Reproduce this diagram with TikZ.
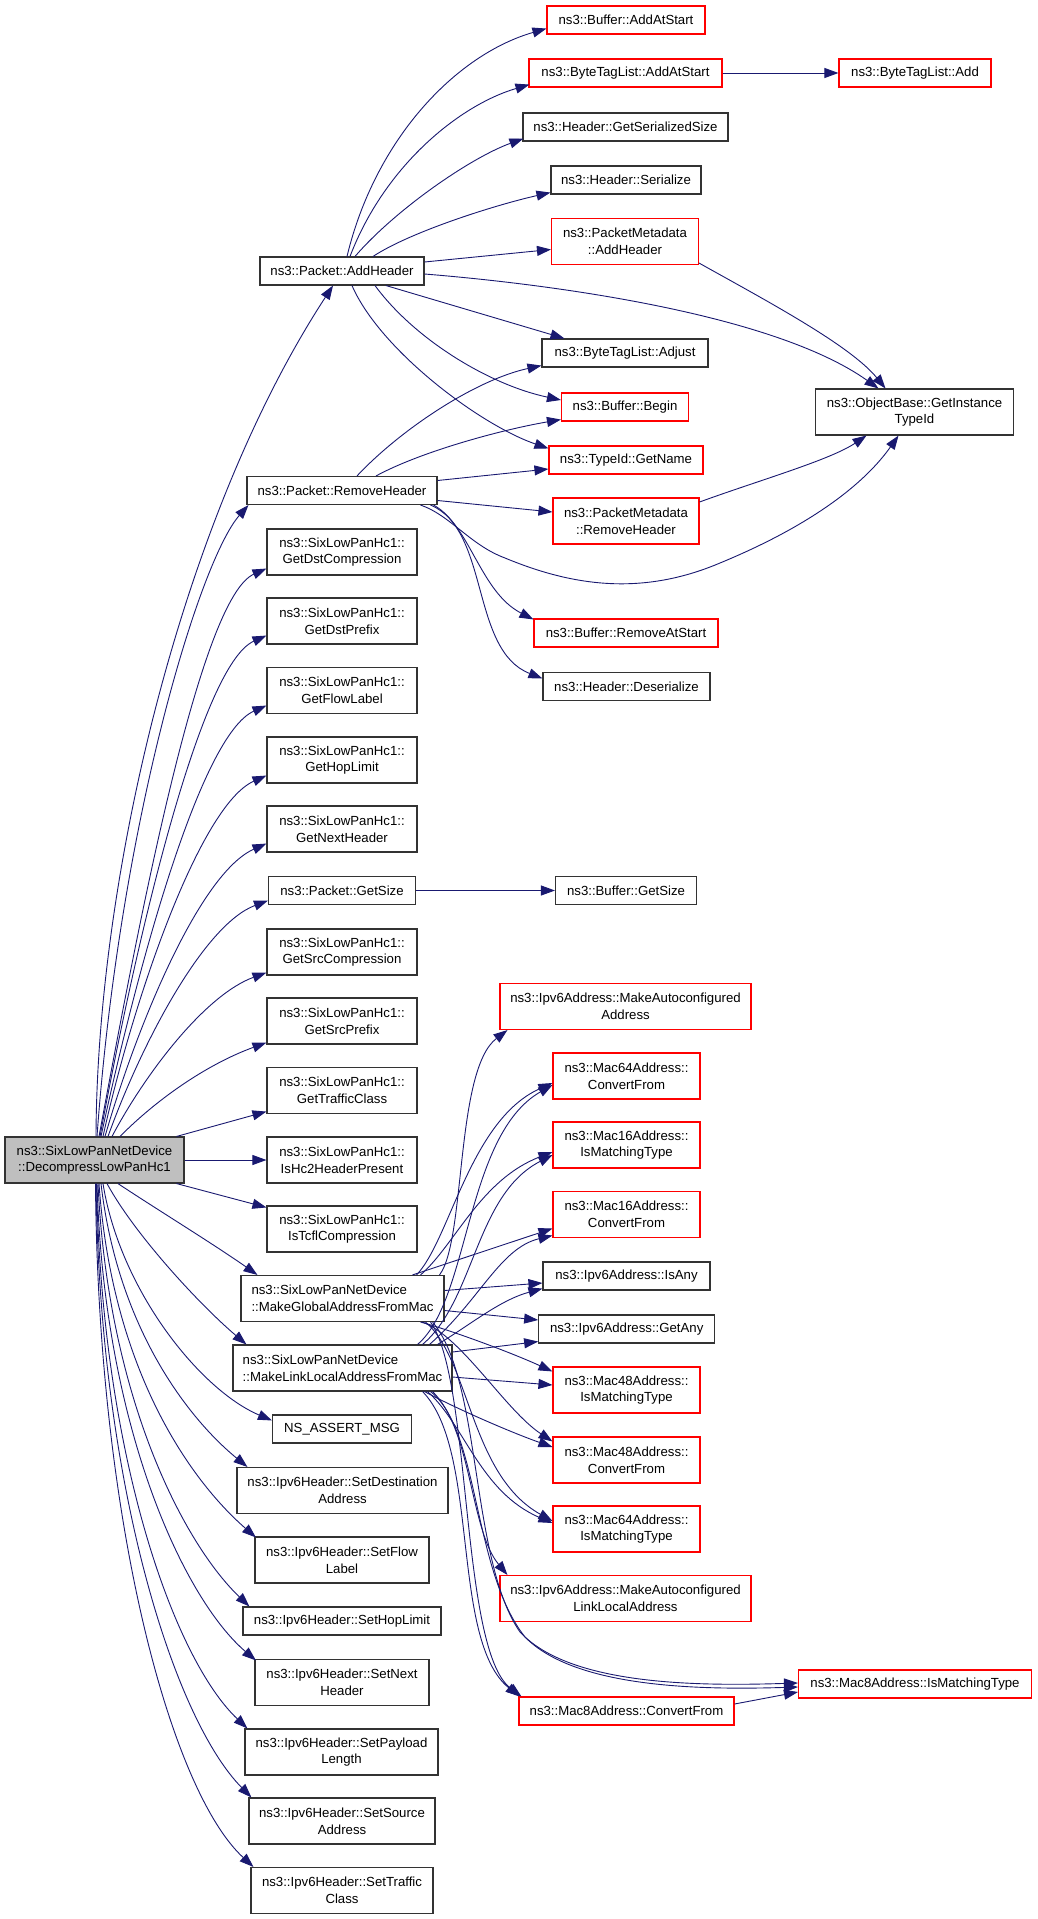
\documentclass[tikz,border=0pt]{standalone}
\usepackage{fontspec}
\setmainfont{Liberation Sans}
\usetikzlibrary{arrows.meta,calc}
\definecolor{edgecol}{HTML}{191970}
\definecolor{boxgray}{HTML}{333333}
\definecolor{maingray}{HTML}{BFBFBF}
\newcommand{\dxfont}{\fontsize{13.2}{16.7}\selectfont}
\begin{document}
\begin{tikzpicture}[x=1pt,y=-1pt,
 box/.style={draw=boxgray,line width=1.1pt,fill=white,rectangle,inner sep=0pt,align=center,font=\dxfont},
 redbox/.style={box,draw=red},
 mainbox/.style={box,fill=maingray},
 sz/.style 2 args={minimum width=#1pt,minimum height=#2pt},
 conn/.style={draw=edgecol,line width=0.9pt,-{Triangle[length=14pt,width=10pt]}}]
\useasboundingbox (0,0) rectangle (1037,1919);

% ---- column 0
\node[mainbox,sz={179}{46}] (D) at (94.5,1160) {ns3::SixLowPanNetDevice\\::DecompressLowPanHc1};

% ---- column 1
\node[box,sz={164}{28}] (pAdd) at (342,271) {ns3::Packet::AddHeader};
\node[box,sz={190}{28}] (pRem) at (342,490.5) {ns3::Packet::RemoveHeader};
\node[box,sz={150}{46}] (gDC) at (342,552) {ns3::SixLowPanHc1::\\GetDstCompression};
\node[box,sz={150}{46}] (gDP) at (342,621) {ns3::SixLowPanHc1::\\GetDstPrefix};
\node[box,sz={150}{46}] (gFL) at (342,690.5) {ns3::SixLowPanHc1::\\GetFlowLabel};
\node[box,sz={150}{46}] (gHL) at (342,760) {ns3::SixLowPanHc1::\\GetHopLimit};
\node[box,sz={150}{46}] (gNH) at (342,829) {ns3::SixLowPanHc1::\\GetNextHeader};
\node[box,sz={147}{28}] (pGS) at (342,890.5) {ns3::Packet::GetSize};
\node[box,sz={150}{46}] (gSC) at (342,952) {ns3::SixLowPanHc1::\\GetSrcCompression};
\node[box,sz={150}{46}] (gSP) at (342,1021) {ns3::SixLowPanHc1::\\GetSrcPrefix};
\node[box,sz={150}{46}] (gTC) at (342,1090.5) {ns3::SixLowPanHc1::\\GetTrafficClass};
\node[box,sz={150}{46}] (isHc2) at (342,1160) {ns3::SixLowPanHc1::\\IsHc2HeaderPresent};
\node[box,sz={150}{46}] (isTcfl) at (342,1229) {ns3::SixLowPanHc1::\\IsTcflCompression};
\node[box,sz={203}{46},align=left] (MG) at (342.5,1298.5) {ns3::SixLowPanNetDevice\\::MakeGlobalAddressFromMac};
\node[box,sz={219}{46},align=left] (ML) at (342.5,1368) {ns3::SixLowPanNetDevice\\::MakeLinkLocalAddressFromMac};
\node[box,sz={139}{28}] (nsA) at (342,1429) {NS\_ASSERT\_MSG};
\node[box,sz={211}{46}] (setDA) at (342.5,1490.5) {ns3::Ipv6Header::SetDestination\\Address};
\node[box,sz={174}{46}] (setFL) at (342,1560) {ns3::Ipv6Header::SetFlow\\Label};
\node[box,sz={198}{28}] (setHL) at (342,1621) {ns3::Ipv6Header::SetHopLimit};
\node[box,sz={174}{46}] (setNH) at (342,1682.5) {ns3::Ipv6Header::SetNext\\Header};
\node[box,sz={193}{46}] (setPL) at (341.5,1752) {ns3::Ipv6Header::SetPayload\\Length};
\node[box,sz={186}{46}] (setSA) at (342,1821) {ns3::Ipv6Header::SetSource\\Address};
\node[box,sz={182}{46}] (setTC) at (342,1890.5) {ns3::Ipv6Header::SetTraffic\\Class};

% ---- column 2
\node[redbox,sz={158}{28}] (bufAdd) at (626,20) {ns3::Buffer::AddAtStart};
\node[redbox,sz={193}{28}] (btlAddAt) at (625.5,73) {ns3::ByteTagList::AddAtStart};
\node[box,sz={205}{28}] (hdrGSS) at (625.5,127) {ns3::Header::GetSerializedSize};
\node[box,sz={150}{28}] (hdrSer) at (626,180) {ns3::Header::Serialize};
\node[redbox,sz={147}{46}] (pmAdd) at (625,241.5) {ns3::PacketMetadata\\::AddHeader};
\node[box,sz={166}{28}] (btlAdj) at (625,353) {ns3::ByteTagList::Adjust};
\node[redbox,sz={127}{28}] (bufBegin) at (625,407) {ns3::Buffer::Begin};
\node[redbox,sz={154}{28}] (tidGN) at (626,460) {ns3::TypeId::GetName};
\node[redbox,sz={146}{46}] (pmRem) at (626,521) {ns3::PacketMetadata\\::RemoveHeader};
\node[redbox,sz={184}{28}] (bufRAS) at (626,633) {ns3::Buffer::RemoveAtStart};
\node[box,sz={167}{28}] (hdrDes) at (626.5,686.5) {ns3::Header::Deserialize};
\node[box,sz={141}{28}] (bufGS) at (626,890.5) {ns3::Buffer::GetSize};
\node[redbox,sz={251}{46}] (ipMAA) at (625.5,1006.5) {ns3::Ipv6Address::MakeAutoconfigured\\Address};
\node[redbox,sz={147}{46}] (m64CF) at (626.5,1076) {ns3::Mac64Address::\\ConvertFrom};
\node[redbox,sz={147}{46}] (m16IMT) at (626.5,1145) {ns3::Mac16Address::\\IsMatchingType};
\node[redbox,sz={147}{46}] (m16CF) at (626.5,1214.5) {ns3::Mac16Address::\\ConvertFrom};
\node[box,sz={167}{28}] (ipIsAny) at (626.5,1276) {ns3::Ipv6Address::IsAny};
\node[box,sz={176}{28}] (ipGetAny) at (626.7,1329) {ns3::Ipv6Address::GetAny};
\node[redbox,sz={147}{46}] (m48IMT) at (626.5,1390) {ns3::Mac48Address::\\IsMatchingType};
\node[redbox,sz={147}{46}] (m48CF) at (626.5,1460) {ns3::Mac48Address::\\ConvertFrom};
\node[redbox,sz={147}{46}] (m64IMT) at (626.5,1529) {ns3::Mac64Address::\\IsMatchingType};
\node[redbox,sz={251}{46}] (ipMALL) at (625.5,1598.5) {ns3::Ipv6Address::MakeAutoconfigured\\LinkLocalAddress};
\node[redbox,sz={215}{28}] (m8CF) at (626.5,1711) {ns3::Mac8Address::ConvertFrom};

% ---- column 3
\node[redbox,sz={152}{28}] (btlAdd) at (915,73) {ns3::ByteTagList::Add};
\node[box,sz={198}{46}] (obGIT) at (914.5,412) {ns3::ObjectBase::GetInstance\\TypeId};
\node[redbox,sz={233}{28}] (m8IMT) at (915,1684) {ns3::Mac8Address::IsMatchingType};

% ---- edges from DecompressLowPanHc1 (upward)
\draw[conn] ($(D.north)+(1.5,0)$) .. controls (97,880) and (180,520) .. ($(pAdd.south)+(-9,0)$);
\draw[conn] ($(D.north)+(2.5,0)$) .. controls (120,820) and (200,560) .. ($(pRem.south west)+(2,0)$);
\draw[conn] ($(D.north)+(4.5,0)$) .. controls (139,921) and (200,598) .. ($(gDC.south west)+(0,-7)$);
\draw[conn] ($(D.north)+(5.5,0)$) .. controls (135,946) and (200,665) .. ($(gDP.south west)+(0,-9)$);
\draw[conn] ($(D.north)+(6.5,0)$) .. controls (136,973) and (200,735) .. ($(gFL.south west)+(0,-8.5)$);
\draw[conn] ($(D.north)+(8.5,0)$) .. controls (133,1000) and (200,805) .. ($(gHL.south west)+(0,-8)$);
\draw[conn] ($(D.north)+(10.5,0)$) .. controls (137,1025) and (200,873) .. ($(gNH.south west)+(0,-9)$);
\draw[conn] ($(D.north)+(13.5,0)$) .. controls (140,1047) and (203,925) .. ($(pGS.south west)+(0,-4.5)$);
\draw[conn] ($(D.north)+(17.5,0)$) .. controls (145,1074) and (205,995) .. ($(gSC.south west)+(0,-3)$);
\draw[conn] ($(D.north)+(25.5,0)$) .. controls (155,1101) and (205,1065) .. ($(gSP.south west)+(0,-2)$);
\draw[conn] ($(D.north)+(82,0)$) -- ($(gTC.south west)+(0,-2.5)$);
\draw[conn] (D.east) -- (isHc2.west);
\draw[conn] ($(D.south)+(82,0)$) -- ($(isTcfl.north west)+(0,2)$);

% ---- edges from DecompressLowPanHc1 (downward)
\draw[conn] ($(D.south)+(23.5,0)$) .. controls (150,1205) and (215,1245) .. ($(MG.north west)+(17,0)$);
\draw[conn] ($(D.south)+(12.5,0)$) .. controls (135,1235) and (200,1305) .. ($(ML.north west)+(14,0)$);
\draw[conn] ($(D.south)+(8.5,0)$) .. controls (120,1290) and (200,1390) .. ($(nsA.north west)+(0,6)$);
\draw[conn] ($(D.south)+(6.5,0)$) .. controls (118,1330) and (190,1420) .. ($(setDA.north west)+(11,0)$);
\draw[conn] ($(D.south)+(4.5,0)$) .. controls (112,1370) and (190,1480) .. ($(setFL.north west)+(1.5,1)$);
\draw[conn] ($(D.south)+(3.5,0)$) .. controls (108,1400) and (185,1545) .. ($(setHL.north west)+(7,0)$);
\draw[conn] ($(D.south)+(2.5,0)$) .. controls (104,1430) and (185,1600) .. ($(setNH.north west)+(1.5,1.5)$);
\draw[conn] ($(D.south)+(2,0)$) .. controls (102,1460) and (175,1660) .. ($(setPL.north west)+(3,0)$);
\draw[conn] ($(D.south)+(1.5,0)$) .. controls (100,1490) and (175,1720) .. ($(setSA.north west)+(3,0)$);
\draw[conn] ($(D.south)+(1,0)$) .. controls (98,1520) and (170,1790) .. ($(setTC.north west)+(3,0)$);

% ---- edges from Packet::AddHeader
\draw[conn] ($(pAdd.north)+(5,0)$) .. controls (375,140) and (455,55) .. ($(bufAdd.south west)+(0,-6)$);
\draw[conn] ($(pAdd.north)+(8,0)$) .. controls (385,165) and (460,105) .. ($(btlAddAt.south west)+(1,-3)$);
\draw[conn] ($(pAdd.north)+(13,0)$) .. controls (395,210) and (470,158) .. ($(hdrGSS.south west)+(1,-3)$);
\draw[conn] ($(pAdd.north)+(31,0)$) .. controls (410,232) and (495,205) .. ($(hdrSer.south west)+(0,-2)$);
\draw[conn] ($(pAdd.east)+(0,-9)$) -- ($(pmAdd.west)+(0,8)$);
\draw[conn] ($(pAdd.east)+(0,3)$) .. controls (560,285) and (775,315) .. ($(obGIT.north)+(-36,0)$);
\draw[conn] ($(pAdd.south)+(44,0)$) -- ($(btlAdj.north west)+(23,0)$);
\draw[conn] ($(pAdd.south)+(33,0)$) .. controls (415,340) and (490,385) .. ($(bufBegin.west)+(0,-7)$);
\draw[conn] ($(pAdd.south)+(10,0)$) .. controls (380,350) and (480,425) .. ($(tidGN.north west)+(0,3)$);
\draw[conn] (btlAddAt.east) -- (btlAdd.west);
\draw[conn] ($(pmAdd.south east)+(0,-2)$) .. controls (765,300) and (850,345) .. ($(obGIT.north)+(-29,0)$);

% ---- edges from Packet::RemoveHeader
\draw[conn] ($(pRem.north)+(15,0)$) .. controls (400,430) and (475,380) .. ($(btlAdj.south west)+(0,-2)$);
\draw[conn] ($(pRem.north)+(34,0)$) .. controls (420,452) and (500,430) .. ($(bufBegin.south west)+(0,-2)$);
\draw[conn] ($(pRem.east)+(0,-10)$) -- ($(tidGN.west)+(0,9)$);
\draw[conn] ($(pRem.east)+(0,10)$) -- ($(pmRem.west)+(0,-9)$);
\draw[conn] ($(pRem.south east)+(-17,0)$) .. controls (450,515) and (470,545) .. (505,558)
   .. controls (570,585) and (640,597) .. (720,563)
   .. controls (800,530) and (860,490) .. ($(obGIT.south)+(-16,0)$);
\draw[conn] ($(pRem.south east)+(-4,0)$) .. controls (470,525) and (480,592) .. ($(bufRAS.north west)+(0,1)$);
\draw[conn] ($(pRem.south east)+(-7,0)$) .. controls (490,530) and (470,650) .. ($(hdrDes.west)+(0,-8)$);
\draw[conn] ($(pmRem.east)+(0,-19)$) .. controls (760,480) and (830,460) .. ($(obGIT.south)+(-48,0)$);

\draw[conn] (pGS.east) -- (bufGS.west);

% ---- edges from MakeGlobalAddressFromMac
\draw[conn] ($(MG.north)+(97,0)$) .. controls (466,1240) and (455,1070) .. ($(ipMAA.south west)+(8,0)$);
\draw[conn] ($(MG.north)+(74,0)$) .. controls (450,1240) and (470,1120) .. ($(m64CF.west)+(0,7)$);
\draw[conn] ($(MG.north)+(78,0)$) .. controls (455,1245) and (480,1180) .. ($(m16IMT.west)+(0,7)$);
\draw[conn] ($(MG.north)+(70,0)$) -- ($(m16CF.west)+(0,14)$);
\draw[conn] ($(MG.east)+(0,-8)$) -- ($(ipIsAny.west)+(0,7)$);
\draw[conn] ($(MG.east)+(0,12)$) -- ($(ipGetAny.west)+(0,-9)$);
\draw[conn] ($(MG.south east)+(-24,0)$) .. controls (450,1330) and (510,1352) .. ($(m48IMT.north west)+(0,5)$);
\draw[conn] ($(MG.south east)+(-22,0)$) .. controls (462,1337) and (505,1410) .. ($(m48CF.north west)+(0,5)$);
\draw[conn] ($(MG.south east)+(-19,0)$) .. controls (470,1360) and (470,1475) .. ($(m64IMT.west)+(0,-8)$);
\draw[conn] ($(MG.south east)+(-14,0)$) .. controls (472,1380) and (460,1650) .. ($(m8CF.north west)+(3,0)$);
\draw[conn] ($(MG.south east)+(-12,0)$) .. controls (482,1380) and (470,1560) .. (520,1632)
   .. controls (570,1686) and (700,1686) .. ($(m8IMT.west)+(0,-1)$);

% ---- edges from MakeLinkLocalAddressFromMac
\draw[conn] ($(ML.north)+(75,0)$) .. controls (470,1300) and (465,1135) .. ($(m64CF.west)+(0,9)$);
\draw[conn] ($(ML.north)+(80,0)$) .. controls (475,1300) and (475,1195) .. ($(m16IMT.west)+(0,10)$);
\draw[conn] ($(ML.north)+(87,0)$) .. controls (480,1300) and (500,1248) .. ($(m16CF.west)+(0,21)$);
\draw[conn] ($(ML.north)+(95,0)$) .. controls (470,1325) and (500,1300) .. ($(ipIsAny.south west)+(0,-2)$);
\draw[conn] ($(ML.east)+(0,-16)$) -- ($(ipGetAny.south west)+(0,-2)$);
\draw[conn] ($(ML.east)+(0,9)$) -- ($(m48IMT.west)+(0,-5)$);
\draw[conn] ($(ML.south east)+(-28,0)$) .. controls (455,1408) and (510,1432) .. ($(m48CF.west)+(0,-13)$);
\draw[conn] ($(ML.south east)+(-25,0)$) .. controls (465,1425) and (480,1492) .. ($(m64IMT.west)+(0,-6)$);
\draw[conn] ($(ML.south east)+(-20,0)$) .. controls (472,1430) and (470,1530) .. ($(ipMALL.north west)+(8,0)$);
\draw[conn] ($(ML.south east)+(-30,0)$) .. controls (480,1450) and (450,1640) .. ($(m8CF.north west)+(1,0)$);
\draw[conn] ($(ML.south east)+(-22,0)$) .. controls (480,1430) and (472,1570) .. (525,1637)
   .. controls (575,1688) and (700,1690) .. ($(m8IMT.west)+(0,3)$);

\draw[conn] ($(m8CF.east)+(0,-7)$) -- ($(m8IMT.west)+(0,8)$);
\end{tikzpicture}
\end{document}
